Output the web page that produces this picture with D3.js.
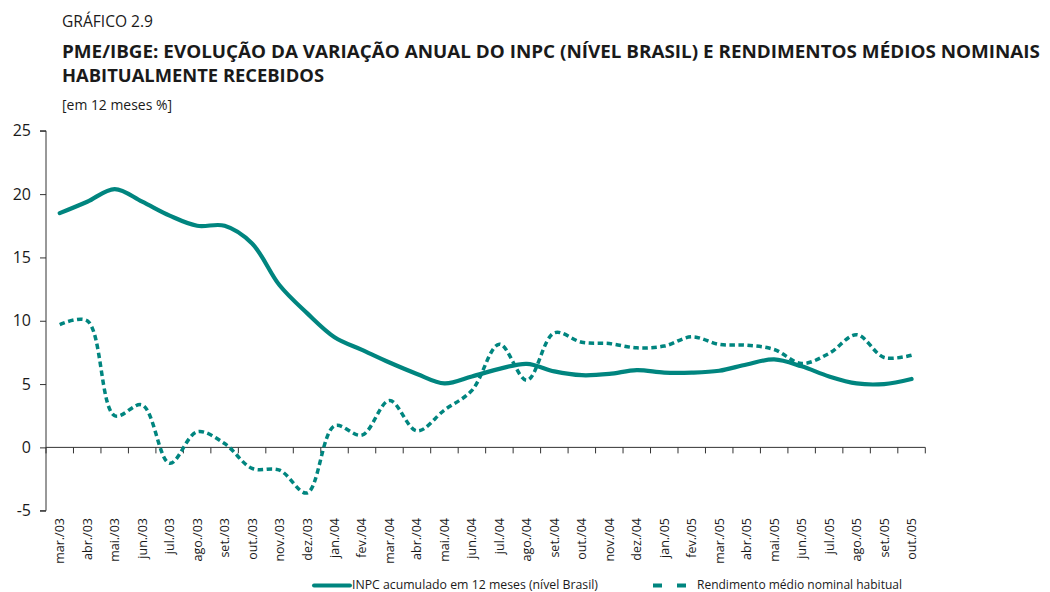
<!DOCTYPE html>
<html><head><meta charset="utf-8">
<script src="https://cdn.jsdelivr.net/npm/d3@7"></script>
<style>body{margin:0;background:#fff}svg{display:block}text{font-family:"Open Sans",sans-serif;fill:#1a1a1a}</style>
</head><body>
<svg id="c" width="1050" height="592"></svg>
<script>
const months = ["mar./03","abr./03","mai./03","jun./03","jul./03","ago./03","set./03","out./03","nov./03","dez./03","jan./04","fev./04","mar./04","abr./04","mai./04","jun./04","jul./04","ago./04","set./04","out./04","nov./04","dez./04","jan./05","fev./05","mar./05","abr./05","mai./05","jun./05","jul./05","ago./05","set./05","out./05"];
const inpc = [18.5,19.4,20.4,19.4,18.3,17.5,17.5,16.1,12.8,10.6,8.7,7.7,6.7,5.8,5.05,5.6,6.2,6.6,6.0,5.7,5.8,6.1,5.9,5.9,6.05,6.55,6.95,6.4,5.6,5.05,5.0,5.4];
const rendimento = [9.7,10.0,2.5,3.35,-1.26,1.23,0.3,-1.66,-1.8,-3.6,1.7,0.97,3.7,1.3,2.95,4.5,8.15,5.3,9.05,8.3,8.2,7.86,8.0,8.73,8.13,8.07,7.73,6.63,7.42,8.9,7.1,7.28];
const yTicks = [-5,0,5,10,15,20,25];
const seriesNames = ["INPC acumulado em 12 meses (nível Brasil)","Rendimento médio nominal habitual"];
const color = "#00857f";

const svg = d3.select("#c");
// titles
svg.append("text").attr("x",62).attr("y",27).style("font-size","16px").style("font-weight","400")
  .attr("textLength",91).attr("lengthAdjust","spacingAndGlyphs").text("GRÁFICO 2.9");
svg.append("text").attr("x",62).attr("y",58).style("font-size","17px").style("font-weight","700")
  .attr("textLength",978).attr("lengthAdjust","spacingAndGlyphs")
  .text("PME/IBGE: EVOLUÇÃO DA VARIAÇÃO ANUAL DO INPC (NÍVEL BRASIL) E RENDIMENTOS MÉDIOS NOMINAIS");
svg.append("text").attr("x",62).attr("y",82).style("font-size","17px").style("font-weight","700")
  .attr("textLength",262).attr("lengthAdjust","spacingAndGlyphs")
  .text("HABITUALMENTE RECEBIDOS");
svg.append("text").attr("x",62).attr("y",110).style("font-size","14px")
  .attr("textLength",110).attr("lengthAdjust","spacingAndGlyphs").text("[em 12 meses %]");

const x = d3.scaleBand().domain(months).range([46,925.3]);
const y = d3.scaleLinear().domain([-5,25]).range([510.7,130.8]);

// y axis
const ya = svg.append("g").attr("transform","translate(46,0)")
  .call(d3.axisLeft(y).tickValues(yTicks).tickFormat(d=>String(d)).tickSize(6).tickPadding(9));
ya.select(".domain").attr("stroke","#333").attr("d","M-6,"+y(-5)+"H0V"+y(25)+"H-6");
ya.selectAll(".tick line").attr("stroke","#333");
ya.selectAll(".tick text").style("font-size","16px").style("font-family","'Open Sans',sans-serif").attr("fill","#1a1a1a");

// x axis at zero
const xa = svg.append("g").attr("transform","translate(0,"+y(0)+")");
xa.append("line").attr("x1",46).attr("x2",925.3).attr("stroke","#333");
const bounds = months.map(m=>x(m)).concat([x.range()[1]]);
xa.selectAll("line.t").data(bounds).join("line").attr("class","t")
  .attr("x1",d=>d).attr("x2",d=>d).attr("y1",0).attr("y2",6).attr("stroke","#333");

// x labels
svg.append("g").selectAll("text").data(months).join("text")
  .attr("transform",d=>"translate("+(x(d)+x.bandwidth()/2)+",518) rotate(-90)")
  .attr("text-anchor","end").attr("dy","0.36em").style("font-size","12.5px").text(d=>d);

const cx = d=>x(d)+x.bandwidth()/2;
const line = d3.line().x((d,i)=>cx(months[i])).y(d=>y(d)).curve(d3.curveCatmullRom.alpha(0.5));

svg.append("path").datum(rendimento).attr("d",line).attr("fill","none").attr("stroke",color)
  .attr("stroke-width",3.5).attr("stroke-dasharray","5.5,3.5");
svg.append("path").datum(inpc).attr("d",line).attr("fill","none").attr("stroke",color)
  .attr("stroke-width",4.2).attr("stroke-linecap","round");

// legend
const lg = svg.append("g");
lg.append("line").attr("x1",314).attr("x2",350).attr("y1",585.5).attr("y2",585.5).attr("stroke",color).attr("stroke-width",4).attr("stroke-linecap","round");
lg.append("text").attr("x",352).attr("y",589).style("font-size","12px").attr("textLength",246).attr("lengthAdjust","spacingAndGlyphs").text(seriesNames[0]);
lg.append("line").attr("x1",653).attr("x2",687).attr("y1",585.5).attr("y2",585.5).attr("stroke",color).attr("stroke-width",4).attr("stroke-dasharray","9,15");
lg.append("text").attr("x",697).attr("y",589).style("font-size","12px").attr("textLength",205).attr("lengthAdjust","spacingAndGlyphs").text(seriesNames[1]);
</script>
</body></html>
